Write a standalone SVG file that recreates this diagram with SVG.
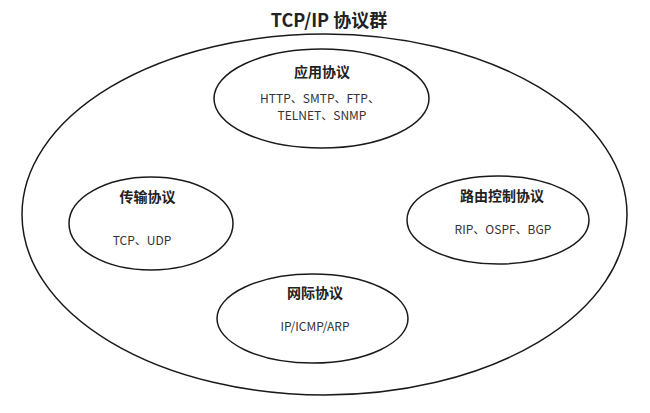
<svg xmlns="http://www.w3.org/2000/svg" width="650" height="413" viewBox="0 0 650 413">
<style>
.e{fill:none;stroke:#1a1a1a;stroke-width:1.5}
text{font-family:"Noto Sans CJK SC","Microsoft YaHei",sans-serif;fill:#333;text-anchor:middle}
.t{font-weight:bold;font-size:14px;fill:#222}
.c{font-size:12px}
.h{font-weight:bold;font-size:18px;fill:#222}
</style>
<rect width="650" height="413" fill="#fff"/>
<g id="outer">
<ellipse class="e" cx="324.5" cy="214.5" rx="302.5" ry="180.5"/>
<text class="h" x="329" y="27">TCP/IP 协议群</text>
</g>
<g id="app">
<ellipse class="e" cx="321.5" cy="98.5" rx="107.5" ry="49.5"/>
<text class="t" x="322" y="77">应用协议</text>
<text class="c" x="320" y="103">HTTP、SMTP、FTP、</text>
<text class="c" x="322" y="120">TELNET、SNMP</text>
</g>
<g id="transport">
<ellipse class="e" cx="151" cy="223.5" rx="82" ry="46.5"/>
<text class="t" x="147.5" y="202">传输协议</text>
<text class="c" x="142" y="245">TCP、UDP</text>
</g>
<g id="routing">
<ellipse class="e" cx="498" cy="220" rx="91" ry="44"/>
<text class="t" x="502" y="201">路由控制协议</text>
<text class="c" x="503" y="234">RIP、OSPF、BGP</text>
</g>
<g id="internet">
<ellipse class="e" cx="312.5" cy="318.5" rx="95.5" ry="44.5"/>
<text class="t" x="315" y="298">网际协议</text>
<text class="c" x="315" y="331">IP/ICMP/ARP</text>
</g>
<g id="connectors"/>
</svg>
